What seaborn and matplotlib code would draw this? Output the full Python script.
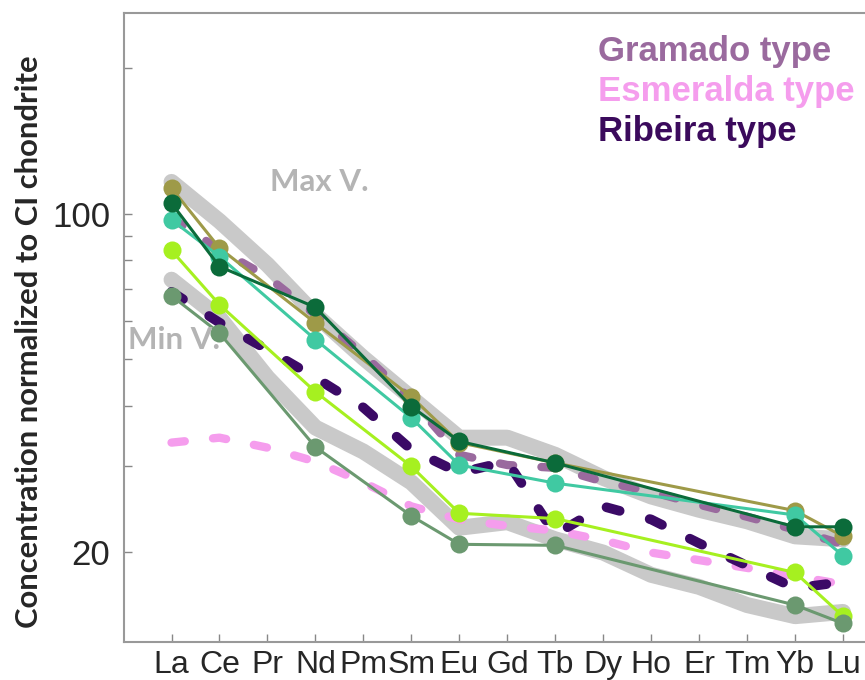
import matplotlib
matplotlib.use("Agg")
import matplotlib.pyplot as plt
from matplotlib.ticker import FixedLocator, NullFormatter, FixedFormatter
import seaborn as sns

# REE pattern, chondrite normalized
elements = ['La', 'Ce', 'Pr', 'Nd', 'Pm', 'Sm', 'Eu', 'Gd', 'Tb', 'Dy', 'Ho', 'Er', 'Tm', 'Yb', 'Lu']
sample_elements = ['La', 'Ce', 'Nd', 'Sm', 'Eu', 'Tb', 'Yb', 'Lu']

# envelope (thick grey)
max_v = [116.3, 96.5, 78.4, 61.8, 50.3, 41.6, 34.4, 34.4, 31.7, 28.4, 26.0, 24.4, 23.1, 21.5, 21.2]
min_v = [73.0, 60.9, 45.8, 36.1, 32.2, 27.8, 22.4, 23.0, 21.2, 19.9, 17.9, 16.9, 15.5, 14.7, 15.0]

# reference types (dashed)
gramado = [98.0, 84.2, 74.0, 61.8, 51.1, 41.2, 31.7, 30.2, 29.8, 27.9, 26.6, 25.0, 23.6, 22.2, 20.7]
esmeralda = [33.6, 34.4, 32.8, 30.7, 27.8, 24.8, 23.3, 22.6, 22.1, 21.1, 19.9, 19.2, 18.5, 17.8, 17.1]
ribeira = [68.9, 59.5, 52.3, 45.8, 39.7, 32.5, 29.1, 30.7, 21.7, 24.8, 23.3, 20.8, 18.7, 16.8, 17.3]

# samples
sample_olive = [112.9, 84.9, 59.4, 41.8, 33.6, 30.5, 24.3, 21.5]
sample_dkgreen = [105.1, 77.7, 64.0, 39.9, 33.8, 30.5, 22.5, 22.5]
sample_teal = [97.1, 81.5, 54.9, 37.8, 30.2, 27.7, 23.8, 19.6]
sample_lime = [83.9, 64.8, 42.8, 30.0, 24.0, 23.4, 18.1, 14.7]
sample_grey = [67.6, 56.6, 32.9, 23.7, 20.7, 20.6, 15.5, 14.2]

sns.set_theme(style="white")
plt.rcParams['font.family'] = ['Liberation Sans', 'DejaVu Sans']

x_all = list(range(len(elements)))
x_s = [elements.index(e) for e in sample_elements]

fig = plt.figure(figsize=(8.65, 6.8), dpi=100)
ax = fig.add_axes([0.1434, 0.0559, 0.87, 0.925])

band = '#c9c9c9'
for vals in (max_v, min_v):
    sns.lineplot(x=x_all, y=vals, color=band, lw=11.5, solid_capstyle='round', ax=ax)

sns.lineplot(x=x_all, y=esmeralda, color='#f59ded', lw=6, linestyle=(0, (1.6, 3.4)),
             dash_capstyle='round', ax=ax)
sns.lineplot(x=x_all, y=gramado, color='#9a6a9e', lw=6, linestyle=(0, (1.6, 3.4)),
             dash_capstyle='round', ax=ax)
sns.lineplot(x=x_all, y=ribeira, color='#3b0a66', lw=7, linestyle=(0, (1.4, 3.2)),
             dash_capstyle='round', ax=ax)

sample_cols = [
    (sample_olive, '#9e9a48'),
    (sample_teal, '#40c9a2'),
    (sample_lime, '#a6f020'),
    (sample_grey, '#6b9970'),
    (sample_dkgreen, '#0b6b3a'),
]
for vals, c in sample_cols:
    sns.lineplot(x=x_s, y=vals, color=c, lw=2.2, marker='o', markersize=13,
                 markeredgewidth=0, ax=ax)

ax.set_yscale('log')
ax.set_ylim(13.0, 260)
ax.set_xlim(-0.99, 14.7)

ax.yaxis.set_major_locator(FixedLocator([20, 100]))
ax.yaxis.set_major_formatter(FixedFormatter(['20', '100']))
ax.yaxis.set_minor_locator(FixedLocator([30, 40, 50, 60, 70, 80, 90, 200]))
ax.yaxis.set_minor_formatter(NullFormatter())
ax.set_xticks(x_all)
ax.set_xticklabels(elements, family=['Liberation Sans Narrow', 'Liberation Sans'], fontsize=23)
ax.tick_params(axis='y', which='both', direction='in', length=6, width=1, color='#888888',
               labelsize=25, pad=10, left=True)
ax.tick_params(axis='x', direction='in', length=6, width=1, color='#888888', pad=6, bottom=True)

for s in ['left', 'bottom', 'top']:
    ax.spines[s].set_color('#999999')
    ax.spines[s].set_linewidth(1.5)
ax.spines['right'].set_visible(False)

ax.set_ylabel('Concentration normalized to CI chondrite', family=['Lato', 'DejaVu Sans'],
              fontweight='bold', fontsize=22.3)
ax.yaxis.set_label_coords(-0.108, 0.478)

fig.text(270 / 865, 1 - 182 / 680, 'Max V.', color='#b4b4b4', fontsize=22.5, fontweight='bold',
         family=['Lato', 'DejaVu Sans'], va='center', ha='left')
fig.text(128 / 865, 1 - 340 / 680, 'Min V.', color='#b4b4b4', fontsize=22.5, fontweight='bold',
         family=['Lato', 'DejaVu Sans'], va='center', ha='left')

legend_items = [('Gramado type', '#9a6a9e', 52), ('Esmeralda type', '#f59ded', 92),
                ('Ribeira type', '#3b0a5c', 132)]
for txt, c, yy in legend_items:
    fig.text(598 / 865, 1 - yy / 680, txt, color=c, fontsize=25, fontweight='bold',
             va='center', ha='left')

fig.savefig('out.png', dpi=100)
